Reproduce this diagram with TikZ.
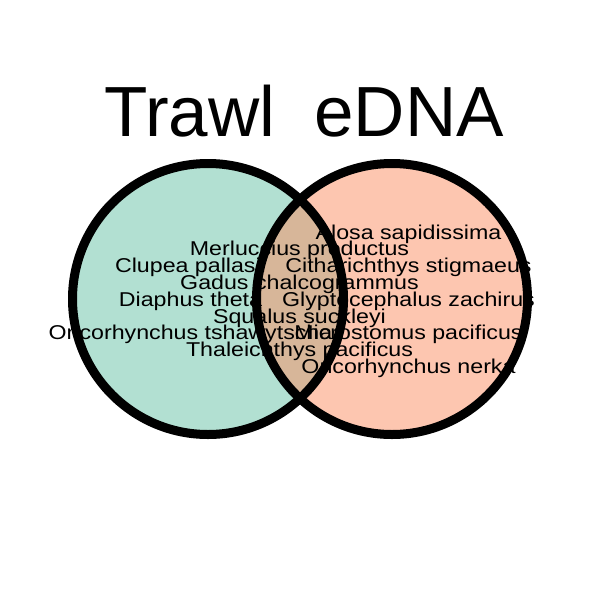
\documentclass[tikz,border=0pt]{standalone}
\usepackage{fontspec}
\setmainfont{Liberation Sans}
\definecolor{trawlfill}{HTML}{66C2A5}
\definecolor{ednafill}{HTML}{FC8D62}
\begin{document}
\begin{tikzpicture}[x=1pt,y=-1pt,
  setfill/.style={fill opacity=0.5},
  setline/.style={draw=black,line width=9pt},
  title/.style={anchor=base,inner sep=0pt,font=\fontsize{71}{71}\selectfont},
  species/.style={anchor=base,inner sep=0pt,xscale=1.16,transform shape,
    font=\fontsize{20}{20}\selectfont}]
\useasboundingbox (0,0) rectangle (600,600);

% the two sets
\coordinate (ct) at (208,299);
\coordinate (ce) at (392,299);
\fill[trawlfill,setfill] (ct) circle[radius=135.5];
\fill[ednafill,setfill] (ce) circle[radius=135.5];
\draw[setline] (ct) circle[radius=135.5];
\draw[setline] (ce) circle[radius=135.5];

% set names
\node[title] (ttrawl) at (190,136.7) {Trawl};
\node[title] (tedna) at (409,136.7) {eDNA};

% species, one row every 16.8 units
\node[species] (s1) at (408.5,239.0) {Alosa sapidissima};
\node[species] (s2) at (299.5,255.8) {Merluccius productus};
\node[species] (s3) at (190.5,272.6) {Clupea pallasii};
\node[species] (s4) at (408.5,272.6) {Citharichthys stigmaeus};
\node[species] (s5) at (299.5,289.4) {Gadus chalcogrammus};
\node[species] (s6) at (190.5,306.2) {Diaphus theta};
\node[species] (s7) at (408.5,306.2) {Glyptocephalus zachirus};
\node[species] (s8) at (299.5,323.0) {Squalus suckleyi};
\node[species] (s9) at (190.5,339.8) {Oncorhynchus tshawytscha};
\node[species] (s10) at (408.5,339.8) {Microstomus pacificus};
\node[species] (s11) at (299.5,356.6) {Thaleichthys pacificus};
\node[species] (s12) at (408.5,373.4) {Oncorhynchus nerka};
\end{tikzpicture}
\end{document}
